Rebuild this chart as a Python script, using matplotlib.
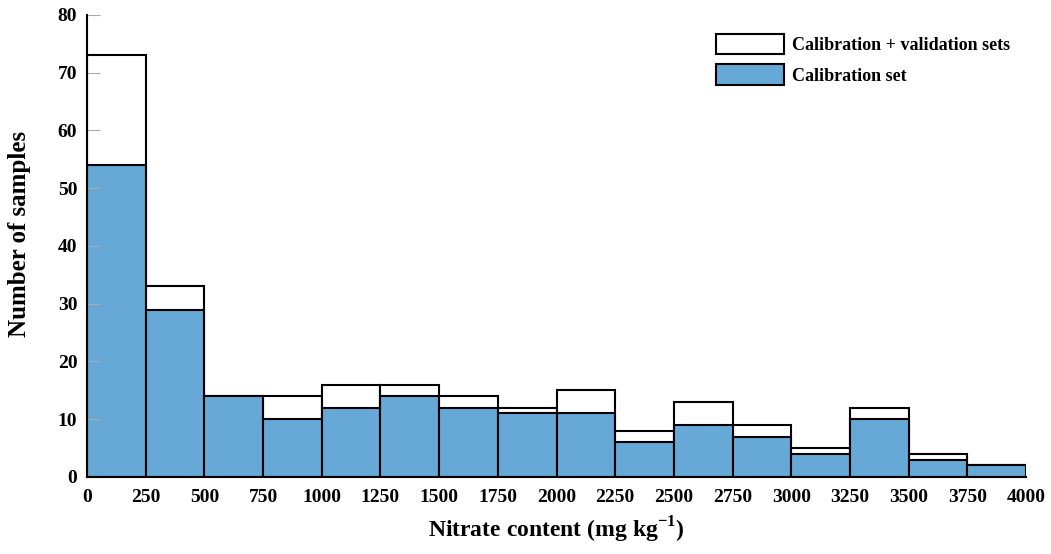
import numpy as np
import matplotlib.pyplot as plt

# bin edges (mg/kg) and counts
bin_edges = list(range(0, 4001, 250))
total_counts = [73, 33, 14, 14, 16, 16, 14, 12, 15, 8, 13, 9, 5, 12, 4, 2]
calib_counts = [54, 29, 14, 10, 12, 14, 12, 11, 11, 6, 9, 7, 4, 10, 3, 2]

plt.rcParams['font.family'] = ['Liberation Serif', 'DejaVu Serif']
plt.rcParams['font.weight'] = 'bold'
plt.rcParams['mathtext.fontset'] = 'custom'
plt.rcParams['mathtext.rm'] = 'Liberation Serif:bold'
plt.rcParams['mathtext.bf'] = 'Liberation Serif:bold'
plt.rcParams['axes.unicode_minus'] = False

fig = plt.figure(figsize=(10.51, 5.54), dpi=100)
ax = fig.add_axes([0.0828, 0.139, 0.8934, 0.834])

lefts = np.array(bin_edges[:-1])
widths = np.diff(bin_edges)
ax.bar(lefts, total_counts, width=widths, align='edge', color='white',
       edgecolor='black', linewidth=1.5, label='Calibration + validation sets')
ax.bar(lefts, calib_counts, width=widths, align='edge', color='#66a8d6',
       edgecolor='black', linewidth=1.5, label='Calibration set')

ax.set_xlim(0, 4000)
ax.set_ylim(0, 80)
ax.set_xticks(bin_edges)
ax.set_yticks(range(0, 81, 10))
ax.tick_params(axis='x', length=0, labelsize=14, pad=9)
ax.tick_params(axis='y', direction='in', length=9, color='#aaaaaa', labelsize=14, pad=7)
for lab in ax.get_xticklabels() + ax.get_yticklabels():
    lab.set_fontweight('bold')

ax.spines['top'].set_visible(False)
ax.spines['right'].set_visible(False)
ax.spines['left'].set_linewidth(1.5)
ax.spines['bottom'].set_linewidth(1.5)

ax.set_xlabel('Nitrate content (mg kg$^{\\mathrm{-1}}$)', fontsize=17, fontweight='bold', labelpad=6)
ax.set_ylabel('Number of samples', fontsize=18, fontweight='bold')
ax.yaxis.set_label_coords(-0.06, 0.525)

leg = ax.legend(loc='upper right', bbox_to_anchor=(1.0, 0.995), frameon=False,
                fontsize=13, handlelength=3.8, handleheight=1.4, handletextpad=0.4,
                labelspacing=0.55)
for t in leg.get_texts():
    t.set_fontweight('bold')

fig.savefig('out.png', dpi=100)
